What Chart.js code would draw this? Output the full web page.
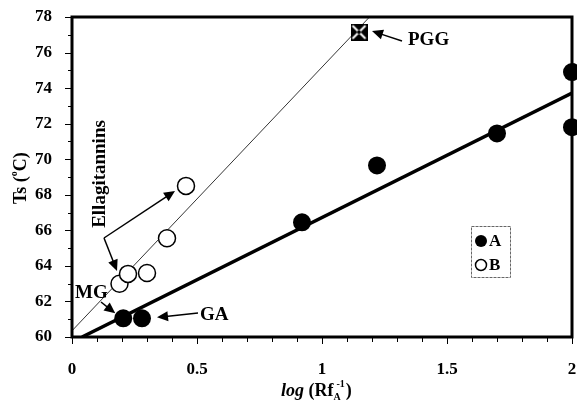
<!DOCTYPE html>
<html>
<head>
<meta charset="utf-8">
<script src="https://cdn.jsdelivr.net/npm/chart.js@4"></script>
<style>
  html, body { margin: 0; padding: 0; background: #fff; }
  canvas { display: block; }
</style>
</head>
<body>
<canvas id="chart" width="577" height="400"></canvas>
<script>
// Data
const xA = [0.205, 0.28, 0.92, 1.22, 1.70, 2.0, 2.0];
const yA = [61.05, 61.05, 66.45, 69.65, 71.45, 74.9, 71.8];
const xB = [0.19, 0.224, 0.30, 0.38, 0.456];
const yB = [63.0, 63.55, 63.6, 65.55, 68.5];
const xPGG = [1.148];
const yPGG = [77.15];
const fitAx = [0.04, 2.0];
const fitAy = [60, 73.72];
const fitBx = [0, 1.19];
const fitBy = [60.35, 78];
const xTicks = [0, 0.5, 1, 1.5, 2];
const yTicks = [60, 62, 64, 66, 68, 70, 72, 74, 76, 78];

const SERIF = '"Liberation Serif", "Times New Roman", serif';
const pts = (xs, ys) => xs.map((x, i) => ({ x, y: ys[i] }));

// box-with-cross marker for PGG
const pggMark = document.createElement('canvas');
pggMark.width = 17; pggMark.height = 17;
(function () {
  const c = pggMark.getContext('2d');
  c.fillStyle = '#000'; c.fillRect(0, 0, 17, 17);
  c.strokeStyle = '#fff'; c.lineWidth = 2;
  c.beginPath(); c.moveTo(2, 2); c.lineTo(15, 15); c.moveTo(15, 2); c.lineTo(2, 15); c.stroke();
  c.fillStyle = '#000'; c.fillRect(7, 7, 3, 3);
})();

function arrow(ctx, x1, y1, x2, y2) {
  const a = Math.atan2(y2 - y1, x2 - x1);
  const hl = 11, hw = 5;
  ctx.beginPath();
  ctx.moveTo(x1, y1);
  ctx.lineTo(x2 - Math.cos(a) * hl * 0.8, y2 - Math.sin(a) * hl * 0.8);
  ctx.stroke();
  ctx.beginPath();
  ctx.moveTo(x2, y2);
  ctx.lineTo(x2 - Math.cos(a) * hl - Math.sin(a) * hw, y2 - Math.sin(a) * hl + Math.cos(a) * hw);
  ctx.lineTo(x2 - Math.cos(a) * hl + Math.sin(a) * hw, y2 - Math.sin(a) * hl - Math.cos(a) * hw);
  ctx.closePath();
  ctx.fill();
}

const extras = {
  id: 'extras',
  afterDraw(chart) {
    const ctx = chart.ctx;
    const xs = chart.scales.x, ys = chart.scales.y;
    const X = v => xs.getPixelForValue(v), Y = v => ys.getPixelForValue(v);
    const a = chart.chartArea;
    ctx.save();
    ctx.strokeStyle = '#000'; ctx.fillStyle = '#000';

    // frame
    ctx.lineWidth = 3;
    ctx.strokeRect(a.left, a.top, a.right - a.left, a.bottom - a.top);

    // ticks (major + minor)
    ctx.lineWidth = 1;
    ctx.beginPath();
    for (let i = 0; i <= 20; i++) {
      const px = Math.round(X(i / 10)) + 0.5;
      const len = i % 5 === 0 ? 6 : 4;
      ctx.moveTo(px, a.bottom + 1); ctx.lineTo(px, a.bottom + 1 + len);
    }
    for (let v = 60; v <= 78; v++) {
      const py = Math.round(Y(v)) + 0.5;
      const len = v % 2 === 0 ? 6 : 3;
      ctx.moveTo(a.left - 1, py); ctx.lineTo(a.left - 1 - len, py);
    }
    ctx.stroke();

    // axis titles
    ctx.textBaseline = 'alphabetic';
    ctx.textAlign = 'left';
    let x0 = 281, base = 396;
    ctx.font = 'bold italic 18px ' + SERIF;
    ctx.fillText('log', x0, base); x0 += ctx.measureText('log ').width;
    ctx.font = 'bold 18px ' + SERIF;
    ctx.fillText('(Rf', x0, base); x0 += ctx.measureText('(Rf').width;
    ctx.font = 'bold 10px ' + SERIF;
    ctx.fillText('A', x0, base + 4);
    ctx.fillText('-1', x0 + 3, base - 9); x0 += ctx.measureText('-1').width + 4;
    ctx.font = 'bold 18px ' + SERIF;
    ctx.fillText(')', x0, base);

    ctx.save();
    ctx.translate(26, 204);
    ctx.rotate(-Math.PI / 2);
    let y0 = 0;
    ctx.font = 'bold 18px ' + SERIF;
    ctx.fillText('Ts (', y0, 0); y0 += ctx.measureText('Ts (').width;
    ctx.font = 'bold 10px ' + SERIF;
    ctx.fillText('o', y0, -9); y0 += ctx.measureText('o').width;
    ctx.font = 'bold 18px ' + SERIF;
    ctx.fillText('C)', y0, 0);
    ctx.restore();

    // legend
    const lgA = chart.data.datasets[0], lgB = chart.data.datasets[1];
    ctx.lineWidth = 1;
    ctx.strokeStyle = '#666';
    ctx.setLineDash([3, 1]);
    ctx.strokeRect(471.5, 226.5, 39, 51);
    ctx.setLineDash([]);
    ctx.strokeStyle = '#000';
    ctx.beginPath(); ctx.arc(481, 241, 6, 0, Math.PI * 2); ctx.fill();
    ctx.lineWidth = 1.5;
    ctx.beginPath(); ctx.arc(481, 265, 5.5, 0, Math.PI * 2); ctx.stroke();
    ctx.font = 'bold 17px ' + SERIF;
    ctx.textBaseline = 'middle';
    ctx.fillText(lgA.label, 489, 242);
    ctx.fillText(lgB.label, 489, 266);

    // annotations
    ctx.font = 'bold 19px ' + SERIF;
    ctx.fillText('PGG', 408, 40);
    ctx.fillText('MG', 75, 293);
    ctx.fillText('GA', 200, 315);
    ctx.save();
    ctx.translate(100, 174);
    ctx.rotate(-Math.PI / 2);
    ctx.textAlign = 'center';
    ctx.fillText('Ellagitannins', 0, 0);
    ctx.restore();

    ctx.lineWidth = 1.5;
    arrow(ctx, 402, 41, X(xPGG[0]) + 13, Y(yPGG[0]) - 1);
    arrow(ctx, 104, 238, X(xB[4]) - 11, Y(yB[4]) + 5);
    arrow(ctx, 104, 238, X(xB[1]) - 11, Y(yB[1]) - 3);
    arrow(ctx, 101, 302, X(xA[0]) - 8, Y(yA[0]) - 5);
    arrow(ctx, 198, 313, X(xA[1]) + 15, Y(yA[1]) - 1);

    ctx.restore();
  }
};

new Chart(document.getElementById('chart'), {
  type: 'scatter',
  data: {
    datasets: [
      { label: 'A', data: pts(xA, yA), pointRadius: 9, pointBackgroundColor: '#000', pointBorderColor: '#000', pointBorderWidth: 0, clip: false, order: 1 },
      { label: 'B', data: pts(xB, yB), pointRadius: 8.5, pointBackgroundColor: '#fff', pointBorderColor: '#000', pointBorderWidth: 1.5, clip: false, order: 1 },
      { label: 'PGG', data: pts(xPGG, yPGG), pointStyle: pggMark, clip: false, order: 0 },
      { type: 'line', label: 'fit A', data: pts(fitAx, fitAy), borderColor: '#000', borderWidth: 3.5, pointRadius: 0, order: 2 },
      { type: 'line', label: 'fit B', data: pts(fitBx, fitBy), borderColor: '#000', borderWidth: 0.8, pointRadius: 0, order: 2 }
    ]
  },
  options: {
    responsive: false,
    animation: false,
    devicePixelRatio: 1,
    layout: { autoPadding: false, padding: { left: 0, right: 5, top: 17, bottom: 0 } },
    plugins: { legend: { display: false }, tooltip: { enabled: false } },
    scales: {
      x: {
        type: 'linear', min: 0, max: 2,
        afterBuildTicks: s => { s.ticks = xTicks.map(v => ({ value: v })); },
        afterFit: s => { s.height = 63; s.paddingLeft = 0; s.paddingRight = 0; },
        grid: { display: false }, border: { display: false },
        ticks: { color: '#000', padding: 14, callback: v => String(v), font: { family: SERIF, size: 17, weight: 'bold' } }
      },
      y: {
        type: 'linear', min: 60, max: 78,
        afterBuildTicks: s => { s.ticks = yTicks.map(v => ({ value: v })); },
        afterFit: s => { s.width = 72; s.paddingTop = 0; s.paddingBottom = 0; },
        grid: { display: false }, border: { display: false },
        ticks: { color: '#000', padding: 12, font: { family: SERIF, size: 17, weight: 'bold' } }
      }
    }
  },
  plugins: [extras]
});
</script>
</body>
</html>
